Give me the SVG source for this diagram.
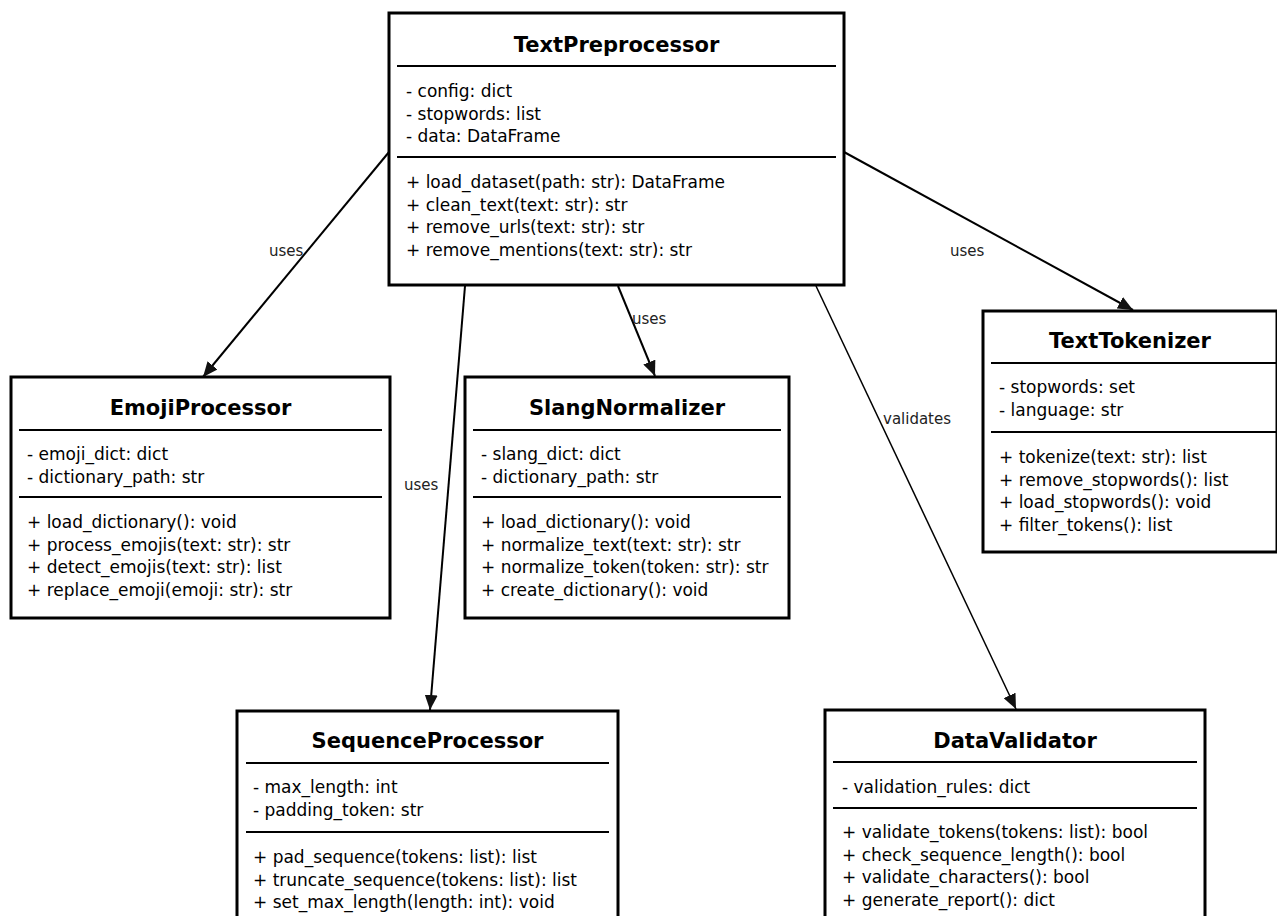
<svg xmlns="http://www.w3.org/2000/svg" width="1277" height="916" viewBox="0 0 1277 916">
  <style>
    .box { fill: #ffffff; stroke: #000000; stroke-width: 3; }
    .sep { stroke: #000000; stroke-width: 2; }
    .title { font-family: "DejaVu Sans", Verdana, sans-serif; font-size: 21px; font-weight: bold; fill: #000000; text-anchor: middle; }
    .member { font-family: "DejaVu Sans", Verdana, sans-serif; font-size: 17px; fill: #000000; }
    .edge { fill: none; stroke: #000000; stroke-width: 2; }
    .edge.thin { stroke-width: 1.5; }
    .label { font-family: "DejaVu Sans", Verdana, sans-serif; font-size: 15px; fill: #222222; }
  </style>
  <defs>
    <marker id="arrow" viewBox="0 0 15 13" refX="15" refY="6.5" markerWidth="15" markerHeight="13" markerUnits="userSpaceOnUse" orient="auto">
      <path d="M0,0 L15,6.5 L0,13 Z" fill="#111111"/>
    </marker>
  </defs>

  <rect width="1277" height="916" fill="#ffffff"/>

  <!-- associations -->
  <g id="connectors">
    <line class="edge" x1="389" y1="152" x2="203" y2="377" marker-end="url(#arrow)"/>
    <text class="label" x="269" y="256">uses</text>
    <line class="edge" x1="465" y1="286" x2="430" y2="710" marker-end="url(#arrow)"/>
    <text class="label" x="404" y="490">uses</text>
    <line class="edge" x1="618" y1="286" x2="655" y2="376" marker-end="url(#arrow)"/>
    <text class="label" x="632" y="324">uses</text>
    <line class="edge thin" x1="816" y1="286" x2="1016" y2="709" marker-end="url(#arrow)"/>
    <text class="label" x="883" y="424">validates</text>
    <line class="edge" x1="844" y1="152" x2="1133" y2="310" marker-end="url(#arrow)"/>
    <text class="label" x="950" y="256">uses</text>
  </g>

  <g id="TextPreprocessor">
    <rect class="box" x="389" y="13" width="455" height="272"/>
    <text class="title" x="616.5" y="52">TextPreprocessor</text>
    <line class="sep" x1="397" y1="66" x2="836" y2="66"/>
    <text class="member" x="406" y="97">- config: dict</text>
    <text class="member" x="406" y="119.5">- stopwords: list</text>
    <text class="member" x="406" y="142">- data: DataFrame</text>
    <line class="sep" x1="397" y1="157" x2="836" y2="157"/>
    <text class="member" x="406" y="188">+ load_dataset(path: str): DataFrame</text>
    <text class="member" x="406" y="210.5">+ clean_text(text: str): str</text>
    <text class="member" x="406" y="233">+ remove_urls(text: str): str</text>
    <text class="member" x="406" y="255.5">+ remove_mentions(text: str): str</text>
  </g>

  <g id="EmojiProcessor">
    <rect class="box" x="11" y="377" width="379" height="241"/>
    <text class="title" x="200.5" y="415">EmojiProcessor</text>
    <line class="sep" x1="19" y1="430" x2="382" y2="430"/>
    <text class="member" x="27" y="460">- emoji_dict: dict</text>
    <text class="member" x="27" y="482.5">- dictionary_path: str</text>
    <line class="sep" x1="19" y1="497" x2="382" y2="497"/>
    <text class="member" x="27" y="528">+ load_dictionary(): void</text>
    <text class="member" x="27" y="550.5">+ process_emojis(text: str): str</text>
    <text class="member" x="27" y="573">+ detect_emojis(text: str): list</text>
    <text class="member" x="27" y="595.5">+ replace_emoji(emoji: str): str</text>
  </g>

  <g id="SlangNormalizer">
    <rect class="box" x="465" y="377" width="324" height="241"/>
    <text class="title" x="627" y="415">SlangNormalizer</text>
    <line class="sep" x1="473" y1="430" x2="781" y2="430"/>
    <text class="member" x="481" y="460">- slang_dict: dict</text>
    <text class="member" x="481" y="482.5">- dictionary_path: str</text>
    <line class="sep" x1="473" y1="497" x2="781" y2="497"/>
    <text class="member" x="481" y="528">+ load_dictionary(): void</text>
    <text class="member" x="481" y="550.5">+ normalize_text(text: str): str</text>
    <text class="member" x="481" y="573">+ normalize_token(token: str): str</text>
    <text class="member" x="481" y="595.5">+ create_dictionary(): void</text>
  </g>

  <g id="TextTokenizer">
    <rect class="box" x="983" y="311" width="294" height="241"/>
    <text class="title" x="1130" y="348">TextTokenizer</text>
    <line class="sep" x1="991" y1="363" x2="1277" y2="363"/>
    <text class="member" x="999" y="393">- stopwords: set</text>
    <text class="member" x="999" y="415.5">- language: str</text>
    <line class="sep" x1="991" y1="432" x2="1277" y2="432"/>
    <text class="member" x="999" y="463">+ tokenize(text: str): list</text>
    <text class="member" x="999" y="485.5">+ remove_stopwords(): list</text>
    <text class="member" x="999" y="508">+ load_stopwords(): void</text>
    <text class="member" x="999" y="530.5">+ filter_tokens(): list</text>
  </g>

  <g id="SequenceProcessor">
    <rect class="box" x="237" y="711" width="381" height="230"/>
    <text class="title" x="427.5" y="748">SequenceProcessor</text>
    <line class="sep" x1="246" y1="763" x2="609" y2="763"/>
    <text class="member" x="253" y="793">- max_length: int</text>
    <text class="member" x="253" y="815.5">- padding_token: str</text>
    <line class="sep" x1="246" y1="832" x2="609" y2="832"/>
    <text class="member" x="253" y="863">+ pad_sequence(tokens: list): list</text>
    <text class="member" x="253" y="885.5">+ truncate_sequence(tokens: list): list</text>
    <text class="member" x="253" y="908">+ set_max_length(length: int): void</text>
  </g>

  <g id="DataValidator">
    <rect class="box" x="825" y="710" width="380" height="230"/>
    <text class="title" x="1015" y="748">DataValidator</text>
    <line class="sep" x1="833" y1="762" x2="1197" y2="762"/>
    <text class="member" x="842" y="793">- validation_rules: dict</text>
    <line class="sep" x1="833" y1="808" x2="1197" y2="808"/>
    <text class="member" x="842" y="838">+ validate_tokens(tokens: list): bool</text>
    <text class="member" x="842" y="860.5">+ check_sequence_length(): bool</text>
    <text class="member" x="842" y="883">+ validate_characters(): bool</text>
    <text class="member" x="842" y="905.5">+ generate_report(): dict</text>
  </g>
</svg>
